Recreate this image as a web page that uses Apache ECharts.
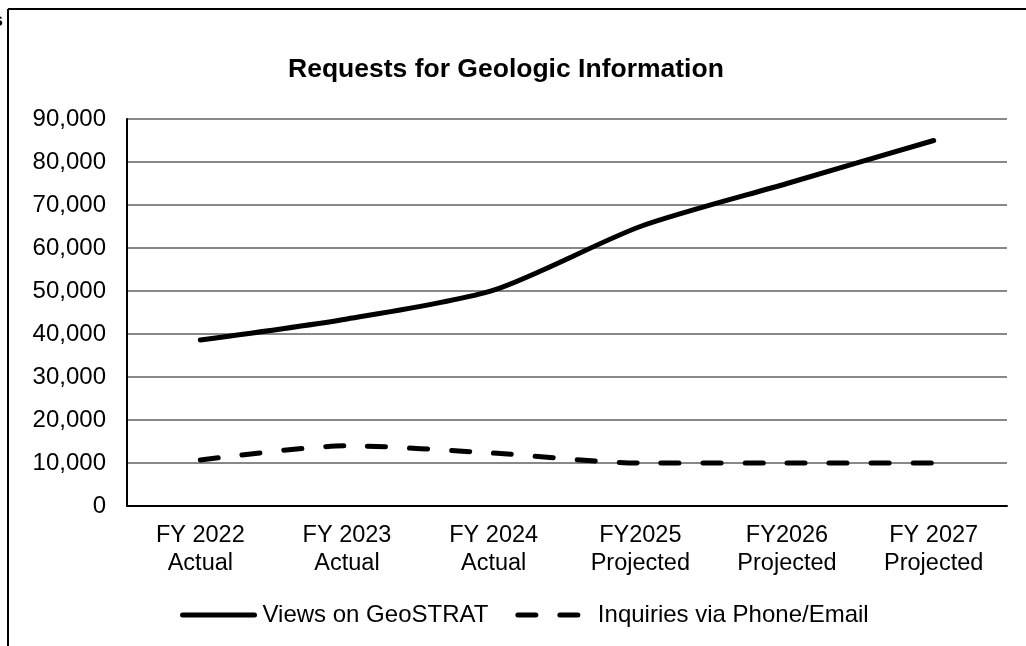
<!DOCTYPE html>
<html>
<head>
    <meta charset="utf-8">
    <title>Requests for Geologic Information</title>
    <script src="https://cdn.jsdelivr.net/npm/echarts@6/dist/echarts.min.js"></script>
    <style>
    *{margin:0px; padding:0px;}
    body{background:#fff;}
    #main{width:1026px; height:646px;}
    </style>
</head>
<body>
    <div id="main"></div>
    <script type="text/javascript">
        var categories = ['FY 2022\nActual', 'FY 2023\nActual', 'FY 2024\nActual', 'FY2025\nProjected', 'FY2026\nProjected', 'FY 2027\nProjected'];
        var geostratViews = [38600, 43500, 50200, 65000, 75000, 85000];
        var phoneEmail = [10700, 14000, 12300, 10000, 10000, 10000];

        var myChart = echarts.init(document.getElementById('main'));

        var font = 'Liberation Sans, Arial, sans-serif';

        var option = {
            animation: false,
            backgroundColor: '#fff',
            title: {
                text: 'Requests for Geologic Information',
                left: 283,
                top: 51,
                textStyle: {fontFamily: font, fontSize: 26.5, fontWeight: 'bold', color: '#000'}
            },
            legend: {
                top: 598,
                left: 175,
                itemWidth: 72,
                itemHeight: 10,
                itemGap: 27,
                lineStyle: {width: 5, cap: 'round'},
                itemStyle: {opacity: 0},
                textStyle: {fontFamily: font, fontSize: 24, color: '#000', padding: [0, 0, 0, 3]},
                data: ['Views on GeoSTRAT', 'Inquiries via Phone/Email']
            },
            grid: {left: 127, right: 19, top: 119, bottom: 140},
            xAxis: {
                type: 'category',
                data: categories,
                boundaryGap: true,
                axisLine: {lineStyle: {color: '#000', width: 2}},
                axisTick: {show: false},
                axisLabel: {fontFamily: font, fontSize: 23.5, color: '#000', lineHeight: 28, margin: 16}
            },
            yAxis: {
                type: 'value',
                min: 0,
                max: 90000,
                interval: 10000,
                axisLine: {show: true, lineStyle: {color: '#000', width: 2}},
                axisTick: {show: false},
                axisLabel: {
                    fontFamily: font, fontSize: 24, color: '#000', margin: 21,
                    formatter: function (v) { return v.toLocaleString('en-US'); }
                },
                splitLine: {lineStyle: {color: '#888', width: 2}}
            },
            graphic: [
                {type: 'line', shape: {x1: 8, y1: 9, x2: 1026, y2: 9}, style: {stroke: '#000', lineWidth: 2}},
                {type: 'line', shape: {x1: 8, y1: 9, x2: 8, y2: 646}, style: {stroke: '#000', lineWidth: 2}},
                {type: 'text', left: -7, top: 12, style: {text: 's', font: 'bold 18px Liberation Sans', fill: '#000'}}
            ],
            series: [
                {
                    name: 'Views on GeoSTRAT',
                    type: 'line',
                    data: geostratViews,
                    smooth: 0.25,
                    symbol: 'none',
                    lineStyle: {color: '#000', width: 5, cap: 'round'},
                    itemStyle: {color: '#000'}
                },
                {
                    name: 'Inquiries via Phone/Email',
                    type: 'line',
                    data: phoneEmail,
                    smooth: 0.25,
                    symbol: 'none',
                    lineStyle: {color: '#000', width: 5, type: [18, 24], cap: 'round'},
                    itemStyle: {color: '#000'}
                }
            ]
        };

        myChart.setOption(option);
    </script>
</body>
</html>
